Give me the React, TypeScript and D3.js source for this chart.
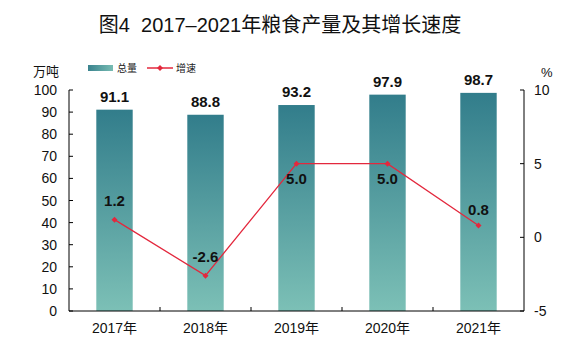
import React from 'react';
import * as d3 from 'd3';

const years = ['2017年', '2018年', '2019年', '2020年', '2021年'];
const output = [91.1, 88.8, 93.2, 97.9, 98.7];
const growth = [1.2, -2.6, 5.0, 5.0, 0.8];
const leftTicks = [0, 10, 20, 30, 40, 50, 60, 70, 80, 90, 100];
const rightTicks = [-5, 0, 5, 10];
// label placement for growth values: above or below the point
const growthLabelPos = ['above', 'above', 'below', 'below', 'above'];

const W = 570;
const H = 350;
const left = 69;
const right = 524;
const top = 90;
const bottom = 311;
const lineColor = '#e3283d';
const font = '"Liberation Sans", Arial, "Noto Sans CJK SC", sans-serif';
const cjk = '"Noto Sans CJK SC", sans-serif';

export default function App() {
  const x = d3.scaleBand<string>().domain(years).range([left, right]).paddingInner(0.6).paddingOuter(0.3);
  const band = d3.scaleBand<string>().domain(years).range([left, right]);
  const yL = d3.scaleLinear().domain([0, 100]).range([bottom, top]);
  const yR = d3.scaleLinear().domain([-5, 10]).range([bottom, top]);
  const cx = (d: string) => (band(d) || 0) + band.bandwidth() / 2;
  const line = d3
    .line<number>()
    .x((_, i) => cx(years[i]))
    .y((d) => yR(d));
  const diamond = (px: number, py: number, r: number) =>
    `M${px},${py - r}L${px + r},${py}L${px},${py + r}L${px - r},${py}Z`;

  return (
    <svg width={W} height={H} style={{ position: 'absolute', left: 0, top: 0 }}>
      <defs>
        <linearGradient id="barGrad" x1="0" y1="0" x2="0" y2="1">
          <stop offset="0%" stopColor="#327d8b" />
          <stop offset="100%" stopColor="#7cc0b6" />
        </linearGradient>
        <linearGradient id="legGrad" x1="0" y1="0" x2="1" y2="0">
          <stop offset="0%" stopColor="#3a838e" />
          <stop offset="100%" stopColor="#78bcb3" />
        </linearGradient>
      </defs>
      <rect width={W} height={H} fill="#fff" />
      <text x={280} y={32} textAnchor="middle" fontFamily={font} fontSize={20} fill="#111" style={{ whiteSpace: 'pre' }}>
        {'图4  2017–2021年粮食产量及其增长速度'}
      </text>

      {/* legend */}
      <rect x={88} y={65} width={25} height={6} fill="url(#legGrad)" />
      <text x={117} y={72} fontFamily={cjk} fontSize={10} fill="#222">总量</text>
      <line x1={147} x2={173} y1={68} y2={68} stroke={lineColor} strokeWidth={1.5} />
      <path d={diamond(160, 68, 3)} fill={lineColor} />
      <text x={176} y={72} fontFamily={cjk} fontSize={10} fill="#222">增速</text>

      <text x={33} y={76} fontFamily={cjk} fontSize={13} fill="#111">万吨</text>
      <text x={541} y={77} fontFamily={font} fontSize={13} fill="#111">%</text>

      {/* bars */}
      {output.map((v, i) => (
        <g key={years[i]}>
          <rect x={x(years[i])} y={yL(v)} width={x.bandwidth()} height={bottom - yL(v)} fill="url(#barGrad)" />
          <text x={cx(years[i])} y={yL(v) - 8} textAnchor="middle" fontFamily={font} fontSize={15} fontWeight="bold" fill="#111">
            {v.toFixed(1)}
          </text>
        </g>
      ))}

      {/* axes */}
      <line x1={left} x2={left} y1={top} y2={bottom} stroke="#000" />
      <line x1={right} x2={right} y1={top} y2={bottom} stroke="#000" />
      <line x1={left} x2={right} y1={bottom} y2={bottom} stroke="#000" />
      {leftTicks.map((t) => (
        <g key={'l' + t}>
          <line x1={left} x2={left + 4} y1={yL(t)} y2={yL(t)} stroke="#000" />
          <text x={57} y={yL(t) + 5} textAnchor="end" fontFamily={font} fontSize={14} fill="#111">{t}</text>
        </g>
      ))}
      {rightTicks.map((t) => (
        <g key={'r' + t}>
          <line x1={right - 4} x2={right} y1={yR(t)} y2={yR(t)} stroke="#000" />
          <text x={534} y={yR(t) + 5} fontFamily={font} fontSize={14} fill="#111">{t}</text>
        </g>
      ))}
      {years.slice(1).map((d) => (
        <line key={'b' + d} x1={band(d)} x2={band(d)} y1={bottom} y2={bottom - 4} stroke="#000" />
      ))}
      {years.map((d) => (
        <text key={'x' + d} x={cx(d)} y={333} textAnchor="middle" fontFamily={font} fontSize={14} fill="#111">{d}</text>
      ))}

      {/* growth line */}
      <path d={line(growth) || ''} fill="none" stroke={lineColor} strokeWidth={1.3} />
      {growth.map((g, i) => (
        <g key={'g' + i}>
          <path d={diamond(cx(years[i]), yR(g), 3)} fill={lineColor} />
          <text
            x={cx(years[i])}
            y={growthLabelPos[i] === 'above' ? yR(g) - (i === 4 ? 11 : 14) : yR(g) + 20}
            textAnchor="middle"
            fontFamily={font}
            fontSize={15}
            fontWeight="bold"
            fill="#111"
          >
            {g.toFixed(1)}
          </text>
        </g>
      ))}
    </svg>
  );
}
